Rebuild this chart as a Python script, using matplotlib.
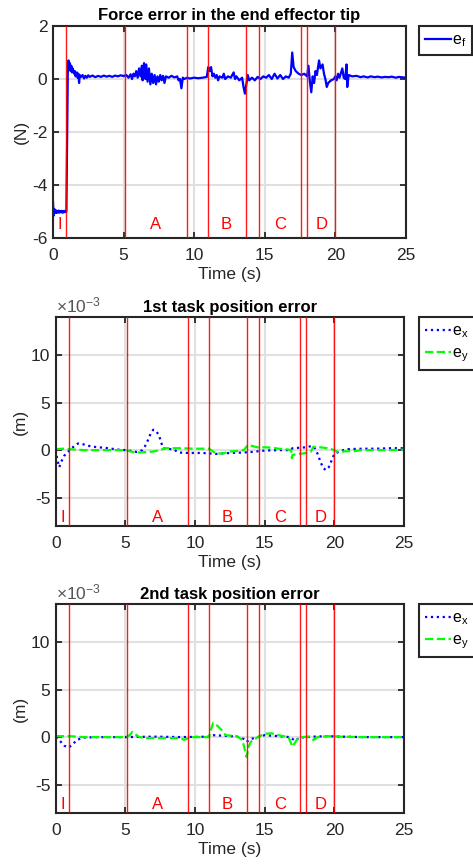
import matplotlib
matplotlib.use('Agg')
import matplotlib.pyplot as plt
from matplotlib.ticker import FuncFormatter

plt.rcParams['font.family'] = ['Liberation Sans', 'DejaVu Sans']
plt.rcParams['mathtext.fontset'] = 'custom'
plt.rcParams['mathtext.rm'] = 'Liberation Sans'
plt.rcParams['axes.unicode_minus'] = False

# phase boundaries (s) and phase labels
phase_lines = [0.95, 5.1, 9.5, 11.0, 13.7, 14.6, 17.55, 18.0, 20.0]
phase_names = ['I', 'A', 'B', 'C', 'D']
phase_name_t = [0.5, 7.3, 12.3, 16.1, 19.0]

# force error e_f (N)
t_force = [0.0, 0.05, 0.1, 0.15, 0.2, 0.25, 0.3, 0.35, 0.4, 0.45, 0.5, 0.55, 0.6, 0.65, 0.7, 0.75,
           0.8, 0.85, 0.9, 0.95, 1.0, 1.05, 1.1, 1.15, 1.2, 1.25, 1.3, 1.35, 1.4, 1.5, 1.55, 1.6,
           1.7, 1.75, 1.8, 1.85, 1.9, 2.0, 2.1, 2.2, 2.3, 2.4, 2.5, 2.6, 2.8, 3.0, 3.2, 3.4, 3.6,
           3.8, 4.0, 4.2, 4.4, 4.6, 4.8, 5.0, 5.2, 5.35, 5.5, 5.6, 5.7, 5.8, 5.9, 6.0, 6.1, 6.2,
           6.3, 6.35, 6.45, 6.55, 6.6, 6.7, 6.8, 6.9, 7.0, 7.1, 7.2, 7.3, 7.4, 7.5, 7.6, 7.7, 7.8,
           7.9, 8.0, 8.2, 8.4, 8.6, 8.8, 8.9, 9.0, 9.1, 9.2, 9.3, 9.5, 9.7, 10.0, 10.3, 10.6, 10.9,
           11.0, 11.1, 11.2, 11.3, 11.4, 11.5, 11.6, 11.7, 11.8, 12.0, 12.1, 12.2, 12.4, 12.6, 12.8,
           12.9, 13.0, 13.2, 13.4, 13.5, 13.6, 13.7, 13.8, 13.9, 14.1, 14.3, 14.5, 14.7, 14.9, 15.1,
           15.3, 15.5, 15.7, 15.9, 16.1, 16.3, 16.5, 16.7, 16.85, 16.95, 17.05, 17.2, 17.4, 17.6,
           17.8, 18.0, 18.1, 18.2, 18.3, 18.4, 18.5, 18.6, 18.7, 18.85, 18.95, 19.1, 19.2, 19.3,
           19.4, 19.5, 19.7, 19.9, 20.0, 20.1, 20.2, 20.3, 20.5, 20.6, 20.7, 20.8, 20.85, 20.95,
           21.2, 21.5, 21.8, 22.0, 22.3, 22.5, 22.8, 23.0, 23.3, 23.5, 23.8, 24.0, 24.3, 24.5, 24.8, 25.0]
e_force = [-4.6, -5.15, -4.9, -5.05, -4.95, -5.05, -4.97, -5.03, -4.96, -5.04, -4.98, -5.02, -4.97, -5.04, -4.98, -5.03,
           -4.97, -5.02, -4.98, -5.0, -2.5, 0.2, 0.7, 0.4, 0.6, 0.3, 0.5, 0.25, 0.4, 0.2, 0.3, 0.1,
           0.25, 0.05, 0.2, -0.15, 0.15, 0.08, 0.15, 0.02, 0.12, 0.05, 0.14, 0.08, 0.13, 0.07, 0.12, 0.08, 0.13,
           0.09, 0.12, 0.08, 0.13, 0.1, 0.14, 0.11, 0.15, 0.05, 0.18, 0.0, 0.2, 0.1, 0.3, 0.05, 0.4, 0.1,
           0.5, -0.05, 0.6, 0.0, 0.55, -0.1, 0.4, -0.2, 0.2, -0.15, 0.15, -0.2, 0.1, -0.1, 0.15, -0.05, 0.12,
           -0.15, 0.1, 0.05, 0.12, 0.06, 0.1, -0.05, 0.0, -0.35, 0.05, 0.0, 0.05, 0.02, 0.05, 0.03, 0.05, 0.08,
           0.45, 0.3, 0.45, 0.1, 0.2, 0.05, 0.15, -0.05, 0.1, 0.05, 0.2, 0.0, 0.1, 0.05, 0.25,
           0.0, 0.1, -0.05, 0.05, -0.3, -0.55, -0.2, 0.15, -0.05, 0.05, -0.05, 0.08, 0.0, 0.1, 0.05,
           0.15, 0.0, 0.2, 0.02, 0.15, 0.0, 0.1, 0.05, 0.2, 1.0, 0.45, 0.3, 0.2, 0.15,
           0.2, 0.1, 0.5, -0.1, -0.5, 0.1, -0.15, 0.3, 0.15, 0.7, 0.4, 0.55, 0.2, 0.0,
           -0.3, -0.15, -0.05, 0.0, 0.1, -0.05, 0.2, 0.05, 0.4, 0.05, 0.0, 0.55, -0.3, 0.15,
           0.1, 0.12, 0.07, 0.1, 0.06, 0.1, 0.07, 0.09, 0.06, 0.08, 0.07, 0.09, 0.05, 0.08, 0.06, 0.05]

# 1st task position error (mm, shown as x10^-3 m)
t_task1_x = [0.0, 0.1, 0.25, 0.4, 0.6, 0.8, 1.0, 1.3, 1.6, 2.0, 2.5, 3.0, 3.5, 4.0, 4.5, 5.0, 5.5, 5.8,
             6.0, 6.2, 6.4, 6.6, 6.8, 7.0, 7.2, 7.4, 7.55, 7.7, 8.0, 8.5, 8.8, 9.5, 10.5, 11.5, 12.5,
             13.5, 14.0, 15.0, 16.0, 16.8, 17.0, 17.5, 18.0, 18.4, 18.6, 18.8, 19.0, 19.2, 19.4, 19.6,
             19.8, 20.0, 20.5, 21.0, 22.0, 23.0, 24.0, 25.0]
e_task1_x = [0.0, -1.0, -1.8, -1.2, -0.6, -0.3, 0.0, 0.4, 0.7, 0.6, 0.4, 0.3, 0.25, 0.15, 0.05, 0.0, -0.1, -0.2,
             -0.15, 0.0, 0.4, 1.0, 1.7, 2.15, 2.0, 1.6, 0.9, 0.2, 0.15, 0.05, -0.25, -0.3, -0.3, -0.4, -0.3,
             -0.25, -0.2, -0.05, 0.0, 0.0, 0.2, 0.25, 0.3, 0.45, 0.2, -0.4, -1.2, -1.9, -2.1, -1.8,
             -1.1, -0.4, -0.05, 0.1, 0.15, 0.15, 0.2, 0.2]
t_task1_y = [0.0, 0.5, 1.0, 2.0, 3.0, 4.0, 5.0, 5.5, 6.0, 7.0, 7.5, 7.8, 9.0, 10.0, 11.0, 11.5, 12.0,
             12.5, 13.0, 13.5, 13.8, 14.2, 14.6, 15.0, 15.5, 16.0, 16.5, 16.9, 16.95, 17.0, 17.5, 18.0,
             18.3, 18.5, 19.0, 19.5, 19.8, 20.3, 21.0, 21.5, 22.0, 23.0, 24.0, 25.0]
e_task1_y = [0.1, 0.15, 0.1, 0.0, 0.0, 0.0, 0.0, -0.2, -0.25, -0.15, 0.0, 0.2, 0.2, 0.15, 0.15, -0.35, -0.35,
             -0.15, -0.1, 0.0, 0.55, 0.4, 0.25, 0.3, 0.25, 0.15, 0.1, 0.0, -0.85, -0.5, -0.4, -0.3,
             -0.2, 0.35, 0.3, 0.2, 0.1, -0.2, -0.1, -0.1, 0.0, 0.0, 0.0, 0.05]

# 2nd task position error (mm, shown as x10^-3 m)
t_task2_x = [0.0, 0.3, 0.6, 0.9, 1.2, 1.5, 2.0, 3.0, 5.0, 7.0, 9.0, 11.0, 11.3, 12.0, 13.0, 13.5,
             13.7, 14.0, 14.5, 15.0, 16.0, 16.8, 17.2, 17.5, 18.5, 19.5, 20.5, 22.0, 25.0]
e_task2_x = [0.0, -0.4, -0.9, -1.1, -0.8, -0.3, -0.05, 0.0, 0.0, 0.05, 0.0, 0.05, 0.2, 0.15, 0.05, -0.2,
             -0.5, -0.2, 0.0, 0.2, 0.1, 0.0, -0.4, -0.05, 0.05, 0.1, 0.05, 0.0, 0.0]
t_task2_y = [0.0, 1.0, 2.0, 5.0, 5.3, 5.5, 5.8, 6.0, 6.5, 8.0, 9.0, 9.2, 9.7, 11.0, 11.1, 11.3, 11.6,
             12.0, 12.2, 13.0, 13.4, 13.55, 13.7, 13.85, 14.0, 14.5, 15.0, 15.5, 16.0, 16.7, 17.0,
             17.3, 17.6, 18.2, 18.5, 18.8, 19.5, 20.5, 22.0, 25.0]
e_task2_y = [0.1, 0.1, 0.0, 0.0, 0.2, 0.55, 0.2, 0.0, -0.1, -0.1, -0.1, -0.3, 0.0, 0.0, 0.6, 1.5, 1.2,
             0.6, 0.2, 0.1, -0.3, -1.2, -2.1, -1.0, -0.5, 0.0, 0.35, 0.4, 0.2, 0.0, -1.0,
             -0.3, 0.0, 0.05, -0.3, 0.0, 0.1, 0.05, 0.0, 0.0]

DARK = '#262626'
FS = 12.5


def style_axes(ax, ylim, yticks):
    ax.set_xlim(0, 25)
    ax.set_ylim(*ylim)
    ax.set_xticks([0, 5, 10, 15, 20, 25])
    ax.set_yticks(yticks)
    ax.grid(True, color='#e0e0e0', linewidth=1.5)
    ax.set_axisbelow(True)
    for s in ax.spines.values():
        s.set_linewidth(1.5)
        s.set_color(DARK)
    ax.tick_params(direction='in', top=True, right=True, length=4, width=1.3,
                   labelsize=FS, colors=DARK)
    ax.tick_params(axis='x', pad=7)
    ax.tick_params(axis='y', pad=4)
    ax.set_xlabel('Time (s)', fontsize=FS, color=DARK, labelpad=3)


def draw_phases(ax, y_text):
    for x in phase_lines:
        ax.axvline(x, color='#ff0000', linewidth=1.0, alpha=0.9, zorder=3)
    for name, t in zip(phase_names, phase_name_t):
        ax.text(t, y_text, name, color='#ff0000', fontsize=12, ha='center', va='center', zorder=4)


def add_legend(handles, top):
    leg = fig.legend(handles=handles, loc='upper left', bbox_to_anchor=(0.886, top),
                     fontsize=11.5, handlelength=1.6, handletextpad=0.05, borderpad=0.4,
                     borderaxespad=0, labelspacing=0.3, fancybox=False, framealpha=1)
    leg.get_frame().set_edgecolor(DARK)
    leg.get_frame().set_linewidth(1.5)
    return leg


fig = plt.figure(figsize=(4.73, 8.66), dpi=100)

# force error
ax1 = fig.add_axes([0.112, 0.725, 0.746, 0.245])
ax1.plot(t_force, e_force, color='#0000ff', linewidth=1.6, label=r'$\mathregular{e_f}$', zorder=2)
style_axes(ax1, (-6, 2), [-6, -4, -2, 0, 2])
draw_phases(ax1, -5.5)
ax1.set_ylabel('(N)', fontsize=FS, color=DARK, labelpad=2)
ax1.set_title('Force error in the end effector tip', fontsize=12, fontweight='bold', pad=4)
add_legend(ax1.get_lines()[:1], 0.970)

panels = [
    ('1st task position error', t_task1_x, e_task1_x, t_task1_y, e_task1_y, 0.3926),
    ('2nd task position error', t_task2_x, e_task2_x, t_task2_y, e_task2_y, 0.0612),
]
for title, tx, ex, ty, ey, bottom in panels:
    ax = fig.add_axes([0.118, bottom, 0.736, 0.241])
    lx, = ax.plot(tx, [v * 1e-3 for v in ex], color='#0000ff', linestyle=':', linewidth=1.6,
                  label=r'$\mathregular{e_x}$', zorder=2)
    ly, = ax.plot(ty, [v * 1e-3 for v in ey], color='#00ff00', linestyle='--', linewidth=1.6,
                  label=r'$\mathregular{e_y}$', zorder=2)
    style_axes(ax, (-8e-3, 14e-3), [-5e-3, 0, 5e-3, 10e-3])
    ax.yaxis.set_major_formatter(FuncFormatter(lambda v, pos: '%g' % round(v * 1e3, 6)))
    ax.text(0.0, 1.01, r'$\mathregular{\times10^{-3}}$', transform=ax.transAxes,
            fontsize=FS, color='#555555', ha='left', va='bottom')
    draw_phases(ax, -7.1e-3)
    ax.set_ylabel('(m)', fontsize=FS, color=DARK, labelpad=2)
    ax.set_title(title, fontsize=12, fontweight='bold', pad=4)
    add_legend([lx, ly], bottom + 0.241)

fig.savefig('out.png', dpi=100)
